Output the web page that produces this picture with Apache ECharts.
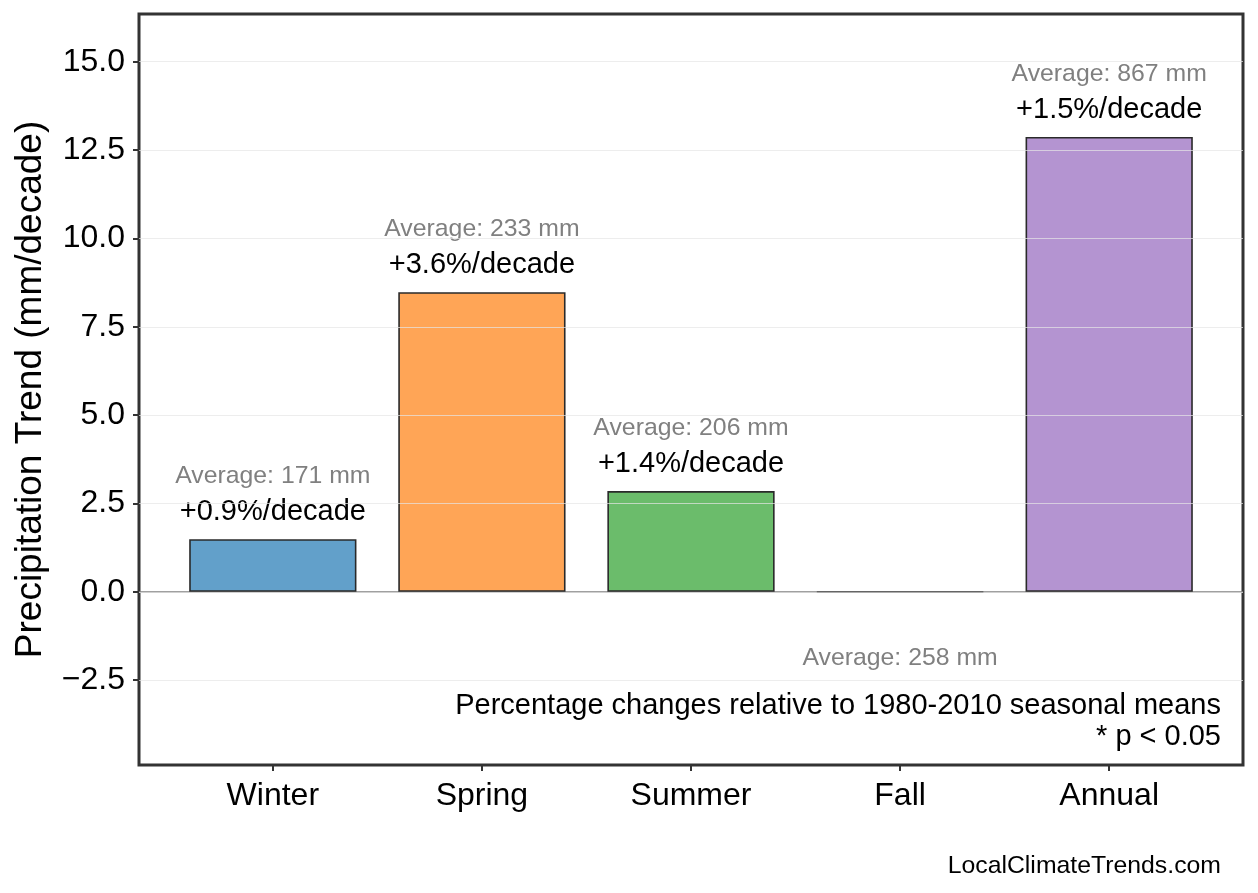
<!DOCTYPE html>
<html>
<head>
<meta charset="utf-8">
<title>Precipitation Trend</title>
<script src="https://cdn.jsdelivr.net/npm/echarts@6/dist/echarts.min.js"></script>
<style>
  html, body { margin: 0; padding: 0; background: #fff; }
  #chart { width: 1258px; height: 893px; }
</style>
</head>
<body>
<div id="chart"></div>
<script>
// data
const seasons = ['Winter', 'Spring', 'Summer', 'Fall', 'Annual']
const trends = [1.49, 8.48, 2.85, -0.02, 12.87]
const averages = [171, 233, 206, 258, 867]
const pctChanges = ['+0.9%', '+3.6%', '+1.4%', '', '+1.5%']
const barColors = [
  'rgba(31,119,180,0.7)',
  'rgba(255,127,14,0.7)',
  'rgba(44,160,44,0.7)',
  'rgba(214,39,40,0.7)',
  'rgba(148,103,189,0.7)'
]
const xTicks = [0, 1, 2, 3, 4]
const yTicks = [-2.5, 0, 2.5, 5, 7.5, 10, 12.5, 15]
const noteLines = ['Percentage changes relative to 1980-2010 seasonal means', '* p < 0.05']

const font = "'Liberation Sans', Arial, Helvetica, sans-serif"

const chart = echarts.init(document.getElementById('chart'), null, { renderer: 'canvas' })

const barData = trends.map((v, i) => {
  const item = { value: [i, v], itemStyle: { color: barColors[i] } }
  if (v < 0) {
    // negative bar: only the average sits below it
    item.label = {
      position: 'bottom',
      distance: 46,
      formatter: `{avg|Average: ${averages[i]} mm}`
    }
  }
  return item
})

chart.setOption({
  animation: false,
  textStyle: { fontFamily: font },
  grid: {
    left: 139, right: 15, top: 14, bottom: 128,
    show: true,
    borderColor: '#333',
    borderWidth: 3,
    backgroundColor: 'transparent'
  },
  xAxis: {
    type: 'value',
    min: -0.64,
    max: 4.64,
    axisLine: { show: false, onZero: false },
    axisTick: {
      show: true,
      customValues: xTicks,
      length: 6,
      lineStyle: { color: '#333', width: 2 }
    },
    axisLabel: {
      customValues: xTicks,
      formatter: v => seasons[v] || '',
      fontSize: 32,
      color: '#000',
      fontFamily: font,
      margin: 15
    },
    splitLine: { show: false }
  },
  yAxis: {
    type: 'value',
    min: -4.9,
    max: 16.35,
    z: 3,
    name: 'Precipitation Trend (mm/decade)',
    nameLocation: 'middle',
    nameGap: 90,
    nameTextStyle: { fontSize: 37, color: '#000', fontFamily: font },
    axisLine: { show: false, onZero: false },
    axisTick: {
      show: true,
      customValues: yTicks,
      length: 6,
      lineStyle: { color: '#333', width: 2 }
    },
    axisLabel: {
      customValues: yTicks,
      formatter: v => v.toFixed(1).replace('-', '\u2212'),
      fontSize: 32,
      color: '#000',
      fontFamily: font,
      margin: 14
    },
    splitLine: {
      show: true,
      lineStyle: { color: 'rgba(229,229,229,0.7)', width: 1 }
    }
  },
  series: [{
    type: 'bar',
    barWidth: '80%',
    data: barData,
    itemStyle: { borderColor: '#2a2a2a', borderWidth: 1.6 },
    label: {
      show: true,
      position: 'top',
      distance: 10,
      formatter: p => {
        const i = p.dataIndex
        return `{avg|Average: ${averages[i]} mm}\n{pct|${pctChanges[i]}/decade}`
      },
      rich: {
        avg: { fontSize: 24.8, color: '#808080', lineHeight: 38, fontFamily: font, align: 'center' },
        pct: { fontSize: 29, color: '#000', lineHeight: 34, fontFamily: font, align: 'center' }
      }
    },
    markLine: {
      silent: true,
      z: 1,
      symbol: 'none',
      label: { show: false },
      lineStyle: { color: '#808080', width: 1.5, type: 'solid' },
      data: [{ yAxis: 0 }]
    }
  }],
  graphic: [
    {
      type: 'text',
      right: 37,
      top: 691,
      style: {
        text: noteLines[0],
        font: `29px ${font}`,
        fill: '#000'
      }
    },
    {
      type: 'text',
      right: 37,
      top: 722,
      style: {
        text: noteLines[1],
        font: `29px ${font}`,
        fill: '#000'
      }
    },
    {
      type: 'text',
      right: 37,
      top: 854,
      style: {
        text: 'LocalClimateTrends.com',
        font: `24.8px ${font}`,
        fill: '#000'
      }
    }
  ]
})
</script>
</body>
</html>
